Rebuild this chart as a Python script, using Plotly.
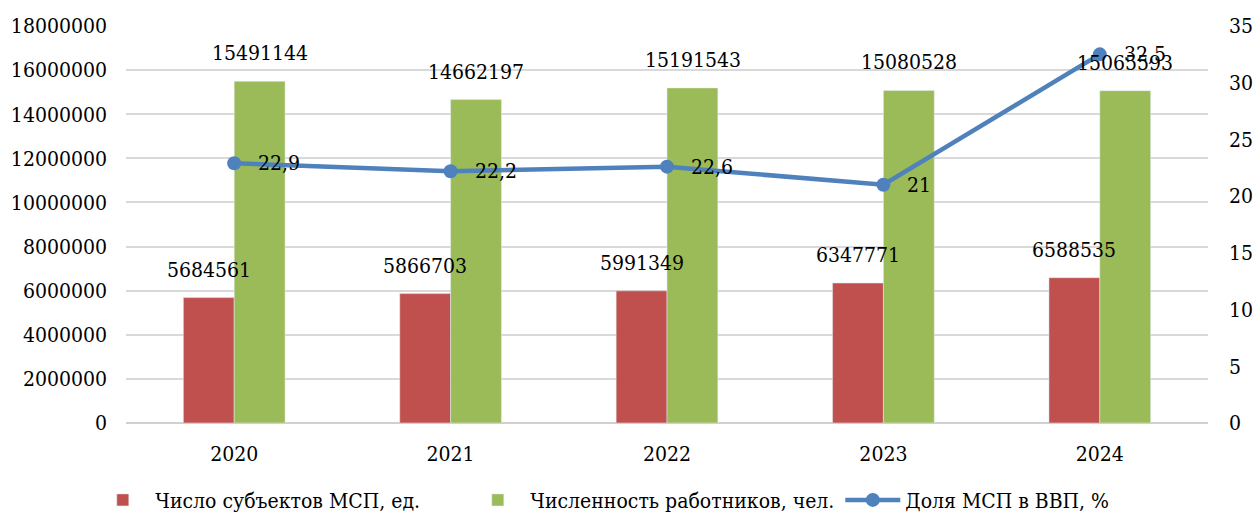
import plotly.graph_objects as go

years = ["2020", "2021", "2022", "2023", "2024"]
subjects = [5684561, 5866703, 5991349, 6347771, 6588535]
workers = [15491144, 14662197, 15191543, 15080528, 15065593]
gdp_share = [22.9, 22.2, 22.6, 21.0, 32.5]
gdp_labels = ["22,9", "22,2", "22,6", "21", "32,5"]

left_ticks = list(range(0, 18000001, 2000000))
right_ticks = list(range(0, 36, 5))

FONT = "DejaVu Serif Condensed, DejaVu Serif"
RED = "#C0504D"
GREEN = "#9BBB59"
BLUE = "#4F81BD"

fig = go.Figure()
fig.add_trace(go.Bar(x=years, y=subjects, name="Число субъектов МСП, ед.",
                     marker_color=RED, yaxis="y"))
fig.add_trace(go.Bar(x=years, y=workers, name="Численность работников, чел.",
                     marker_color=GREEN, yaxis="y"))
fig.add_trace(go.Scatter(x=years, y=gdp_share, name="Доля МСП в ВВП, %",
                         mode="lines+markers", yaxis="y2",
                         line=dict(color=BLUE, width=4.5),
                         marker=dict(color=BLUE, size=14)))

annotations = []
lab_font = dict(size=21, color="black", family=FONT)
for i, v in enumerate(subjects):
    annotations.append(dict(x=i, y=v, xref="x", yref="y", text=str(v),
                            showarrow=False, xshift=-25.5, yshift=14,
                            yanchor="bottom", font=lab_font))
for i, v in enumerate(workers):
    annotations.append(dict(x=i, y=v, xref="x", yref="y", text=str(v),
                            showarrow=False, xshift=25.5, yshift=14,
                            yanchor="bottom", font=lab_font))
for i, (v, t) in enumerate(zip(gdp_share, gdp_labels)):
    annotations.append(dict(x=i, y=v, xref="x", yref="y2", text=t,
                            showarrow=False, xshift=22, xanchor="left",
                            yanchor="middle", font=lab_font))

fig.update_layout(
    width=1256, height=514,
    margin=dict(l=126, r=48, t=26, b=91, autoexpand=False),
    paper_bgcolor="white", plot_bgcolor="white",
    font=dict(family=FONT, size=21, color="black"),
    barmode="group", bargap=0.53, bargroupgap=0,
    showlegend=True,
    legend=dict(orientation="h", x=-0.033, xanchor="left",
                y=-0.143, yanchor="top", itemwidth=55,
                entrywidth=305, entrywidthmode="pixels",
                font=dict(size=21, family=FONT), traceorder="normal"),
    xaxis=dict(type="category", range=[-0.5, len(years) - 0.5], showgrid=False,
               ticks="", showline=False, ticklabelstandoff=16, tickfont=dict(size=21, family=FONT)),
    yaxis=dict(range=[0, 18000000], tickvals=left_ticks,
               ticktext=[str(t) for t in left_ticks],
               showgrid=True, gridcolor="#D9D9D9", gridwidth=1.5,
               zeroline=True, zerolinecolor="#D0D0D0", zerolinewidth=2,
               showline=False, ticks="", ticklabelstandoff=18,
               tickfont=dict(size=21, family=FONT)),
    yaxis2=dict(range=[0, 35], tickvals=right_ticks, overlaying="y", side="right",
                showgrid=False, zeroline=False, showline=False, ticks="",
                ticklabelstandoff=20, tickfont=dict(size=21, family=FONT)),
    annotations=annotations,
)

fig.write_html("out.html")
